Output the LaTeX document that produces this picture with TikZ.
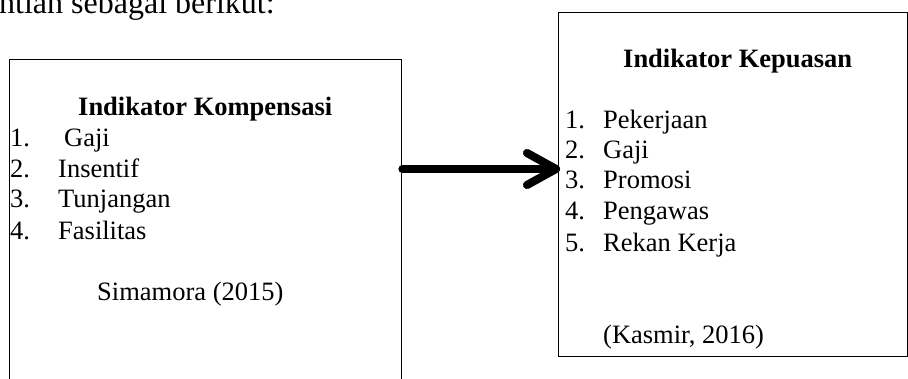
\documentclass[tikz,border=0pt]{standalone}
\usepackage{fontspec}
\setmainfont{Liberation Serif}
\begin{document}
\begin{tikzpicture}[x=1pt,y=1pt,
  txt/.style={anchor=base west,inner sep=0pt,font=\fontsize{26.5}{30}\selectfont},
  ttl/.style={txt,font=\fontsize{26.5}{30}\selectfont\bfseries},
  box/.style={draw,line width=1.4pt,inner sep=0pt,minimum width=#1,anchor=north west},
  arr/.style={line width=8pt,line cap=round,line join=round},
  shd/.style={arr,draw=black!35}]
\clip (0,0) rectangle (908,378);
\fill[white] (0,0) rectangle (908,378);
% boxes
\node[box=392pt,minimum height=340pt] (L) at (9,319) {};
\node[box=348.5pt,minimum height=344pt] (R) at (558,366) {};
% top text
\node[txt,font=\fontsize{32}{36}\selectfont] (top) at (-1,364.5) {ntian sebagai berikut:};
% left box text
\node[ttl] (lt) at (78,262) {Indikator Kompensasi};
\node[txt] (l1) at (10,231) {1.};
\node[txt] (l1t) at (64,231) {Gaji};
\node[txt] (l2) at (10,200) {2.};
\node[txt] (l2t) at (58,200) {Insentif};
\node[txt] (l3) at (10,170) {3.};
\node[txt] (l3t) at (58,170) {Tunjangan};
\node[txt] (l4) at (10,139) {4.};
\node[txt] (l4t) at (58,139) {Fasilitas};
\node[txt] (ls) at (97,78) {Simamora (2015)};
% right box text
\node[ttl] (rt) at (623,310) {Indikator Kepuasan};
\node[txt] (r1) at (565,249) {1.};
\node[txt] (r1t) at (603,249) {Pekerjaan};
\node[txt] (r2) at (565,219) {2.};
\node[txt] (r2t) at (603,219) {Gaji};
\node[txt] (r3) at (565,189) {3.};
\node[txt] (r3t) at (603,189) {Promosi};
\node[txt] (r4) at (565,158) {4.};
\node[txt] (r4t) at (603,158) {Pengawas};
\node[txt] (r5) at (565,127) {5.};
\node[txt] (r5t) at (603,127) {Rekan Kerja};
\node[txt] (rs) at (603,35) {(Kasmir, 2016)};
% arrow
\coordinate (s) at (L.east |- 0,209);
\coordinate (t) at ([xshift=-2pt]R.west |- 0,209);
\begin{scope}[shift={(2,-3)}]
\draw[shd] (s) -- (t);
\draw[shd] ([shift={(-29,16)}]t) -- (t) -- ([shift={(-29,-16)}]t);
\end{scope}
\draw[arr] (s) -- (t);
\draw[arr] ([shift={(-29,16)}]t) -- (t) -- ([shift={(-29,-16)}]t);
\end{tikzpicture}
\end{document}
